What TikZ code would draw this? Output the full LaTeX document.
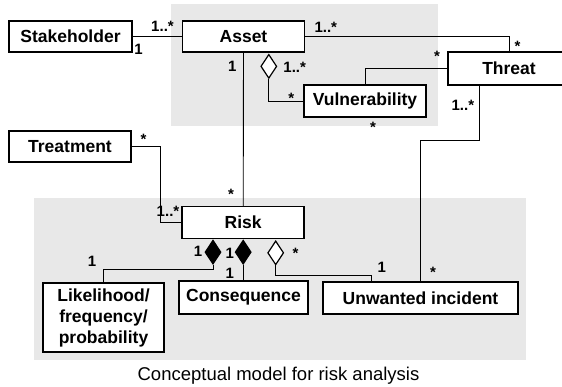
\documentclass[tikz,border=0pt]{standalone}
\usepackage{fontspec}
\setmainfont{Liberation Sans}
\usetikzlibrary{shapes.geometric,calc}
\definecolor{bggray}{RGB}{232,232,232}
\begin{document}
\begin{tikzpicture}[x=1pt,y=-1pt,
 box/.style={draw, line width=1.5pt, fill=white, inner sep=0pt, align=center, font=\bfseries\fontsize{17.5}{21}\selectfont},
 conn/.style={line width=0.9pt},
 mult/.style={font=\bfseries\fontsize{15}{17}\selectfont, inner sep=0pt, anchor=base},
 odiam/.style={draw, diamond, line width=1.2pt, fill=white, inner sep=0pt, minimum width=16pt, minimum height=24pt, anchor=north},
 fdiam/.style={odiam, fill=black},
]
\useasboundingbox (0,0) rectangle (562,386);
% background regions
\fill[bggray] (171,4) rectangle (438,126);
\fill[bggray] (34,198) rectangle (526,360);

% boxes
\node[box, minimum width=123pt, minimum height=31pt] (Stakeholder) at (70.5,36.5) {Stakeholder};
\node[box, minimum width=122pt, minimum height=31pt] (Asset) at (243.5,36.5) {Asset};
\node[box, minimum width=122pt, minimum height=33pt] (Threat) at (509,68.5) {Threat};
\node[box, minimum width=122pt, minimum height=32pt] (Vulnerability) at (365,101) {Vulnerability};
\node[box, minimum width=122pt, minimum height=31pt] (Treatment) at (70,146.5) {Treatment};
\node[box, minimum width=122pt, minimum height=32pt] (Risk) at (243.2,222.5) {Risk};
\node[box, minimum width=121pt, minimum height=69pt] (Likelihood) at (103.5,317.5) {Likelihood/\\frequency/\\probability};
\node[box, minimum width=129pt, minimum height=33pt] (Consequence) at (243.5,297.5) {Consequence};
\node[box, minimum width=195pt, minimum height=32pt] (Unwanted) at (420.5,298) {Unwanted incident};

% diamonds
\node[odiam] (dA) at ($(Asset.south)+(25.3,1)$) {};
\node[fdiam] (d1) at ($(Risk.south)+(-30.2,0.3)$) {};
\node[fdiam] (d2) at ($(Risk.south)+(0,0.3)$) {};
\node[odiam] (d3) at ($(Risk.south)+(32.5,1)$) {};

% connectors
\coordinate (t1) at ($(Threat.south)+(-29.7,0)$);
\coordinate (u1) at ($(Unwanted.north west)+(48.7,0)$);
\begin{scope}[conn]
\draw (Stakeholder.east) -- (Asset.west);
\draw (Asset.east) -| (Threat.north);
\draw (Threat.west) -| (Vulnerability.north);
\draw (dA.south) |- (Vulnerability.west);
\draw (Asset.south) -- (Risk.north);
\draw (Treatment.east) -- ++(28.3,0) |- (Risk.west);
\draw (t1) -- ++(0,55) -| (Unwanted.north);
\draw (d1.south) -- ++(0,4.5) -| (Likelihood.north);
\draw (d2.south) -- (d2.south |- Consequence.north);
\draw (d3.south) -- ++(0,9.6) -| (u1);
\end{scope}

% multiplicities
\node[mult] (m1) at (162.5,31.7) {1..*};
\node[mult] (m2) at (138.5,54.3) {1};
\node[mult] (m3) at (232.3,71) {1};
\node[mult] (m4) at (294.7,72.3) {1..*};
\node[mult] (m5) at (291.3,103.3) {*};
\node[mult] (m6) at (325.8,32.3) {1..*};
\node[mult] (m7) at (517.5,51) {*};
\node[mult] (m8) at (437,61) {*};
\node[mult] (m9) at (373,132.7) {*};
\node[mult] (m10) at (462.9,110.7) {1..*};
\node[mult] (m11) at (143.5,144.3) {*};
\node[mult] (m12) at (168,216.7) {1..*};
\node[mult] (m13) at (231,199.5) {*};
\node[mult] (m14) at (198,256.7) {1};
\node[mult] (m15) at (229.7,258) {1};
\node[mult] (m16) at (229.7,278.3) {1};
\node[mult] (m17) at (295.5,258) {*};
\node[mult] (m18) at (381.7,272.3) {1};
\node[mult] (m19) at (433,277) {*};
\node[mult] (m20) at (92,266.7) {1};

% caption
\node[font=\fontsize{18.5}{22}\selectfont, anchor=base, inner sep=0pt] (cap) at (278.5,380) {Conceptual model for risk analysis};
\end{tikzpicture}
\end{document}
